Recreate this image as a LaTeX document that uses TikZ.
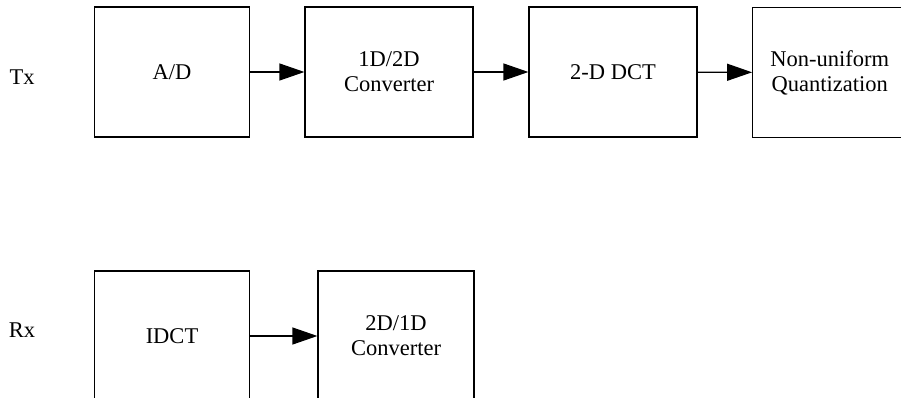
\documentclass[tikz,border=0pt]{standalone}
\usepackage{fontspec}
\setmainfont{Liberation Serif}
\usetikzlibrary{arrows.meta}
\begin{document}
\begin{tikzpicture}[x=1pt,y=-1pt,
  blk/.style={draw, line width=1.2pt, minimum height=130pt, inner sep=0pt, align=center,
    font=\fontsize{22.5}{25}\selectfont},
  lbl/.style={inner sep=0pt, font=\fontsize{22.5}{25}\selectfont},
  flow/.style={line width=1.2pt, -{Triangle[length=25pt,width=17pt]}}]
\useasboundingbox (0,0) rectangle (901,398);
\clip (0,0) rectangle (901,398);
\node[lbl] (tx) at (22,77) {Tx};
\node[lbl] (rx) at (22,330) {Rx};
\node[blk, minimum width=155.5pt] (ad) at (172,72) {A/D};
\node[blk, minimum width=168pt] (conv) at (389,72) {1D/2D\\Converter};
\node[blk, minimum width=168pt] (dct) at (613,72) {2-D DCT};
\node[blk, minimum width=154pt] (quant) at (829.7,72.5) {Non-uniform\\Quantization};
\node[blk, minimum width=155.5pt] (idct) at (172,336) {IDCT};
\node[blk, minimum width=156pt] (conv2) at (396,336) {2D/1D\\Converter};
\draw[flow] (ad) -- (conv);
\draw[flow] (conv) -- (dct);
\draw[flow] (dct) -- (quant);
\draw[flow] (idct) -- (conv2);
\end{tikzpicture}
\end{document}
